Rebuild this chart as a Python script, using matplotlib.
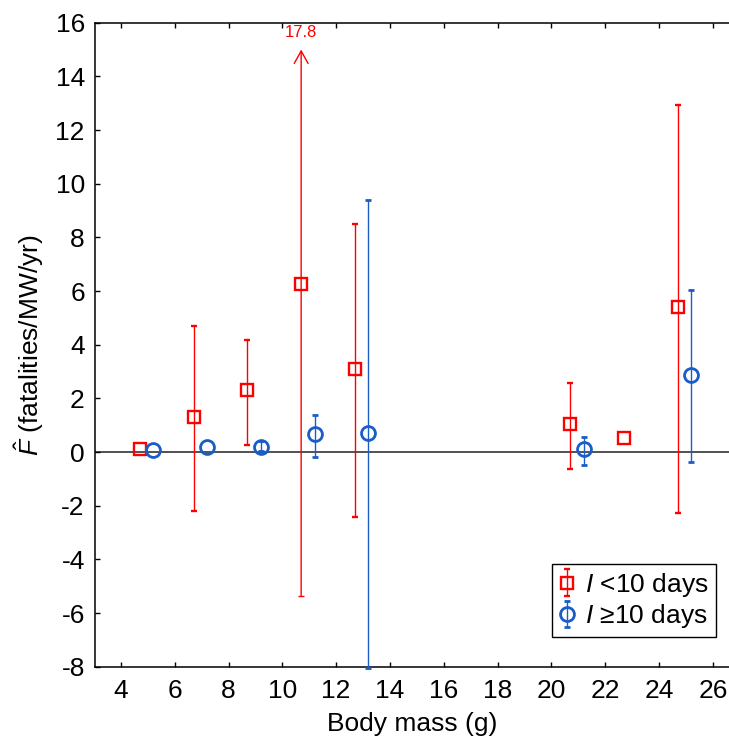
import numpy as np
import matplotlib
matplotlib.use('Agg')
import matplotlib.pyplot as plt

plt.rcParams['font.family'] = ['Liberation Sans', 'DejaVu Sans']
plt.rcParams['mathtext.fontset'] = 'custom'
plt.rcParams['mathtext.rm'] = 'Liberation Sans'
plt.rcParams['mathtext.it'] = 'Liberation Sans:italic'
plt.rcParams['axes.unicode_minus'] = False

# ---- data ----
red_x = [4.7, 6.7, 8.7, 10.7, 12.7, 20.7, 22.7, 24.7]
red_y = [0.11, 1.30, 2.32, 6.27, 3.10, 1.04, 0.52, 5.39]
red_hi = [None, 4.68, 4.18, 17.8, 8.50, 2.59, None, 12.93]
red_lo = [None, -2.18, 0.27, -5.36, -2.42, -0.63, None, -2.27]

blue_x = [5.2, 7.2, 9.2, 11.2, 13.2, 21.2, 25.2]
blue_y = [0.06, 0.20, 0.20, 0.67, 0.72, 0.11, 2.88]
blue_hi = [None, None, 0.42, 1.39, 9.40, 0.57, 6.02]
blue_lo = [None, None, 0.02, -0.19, -8.04, -0.49, -0.39]

y_clip = 15.0          # upper display limit; longer intervals get an arrow
x_ticks = list(range(4, 27, 2))
y_ticks = list(range(-8, 17, 2))

RED = '#ff0000'
BLUE = '#1a5cc8'

fig = plt.figure(figsize=(7.29, 7.47), dpi=100)
W, H = 729, 747
left, right, top, bottom = 94.5, 729, 22.7, 666.7
ax = fig.add_axes([left / W, 1 - bottom / H, (right - left) / W, (bottom - top) / H])

ax.axhline(0, color='#333333', lw=1.2, zorder=1)


def draw_series(xs, ys, his, los, color, marker, ms, mew, label):
    ex, ey, elo, ehi = [], [], [], []
    for x, y, hi, lo in zip(xs, ys, his, los):
        if hi is None:
            continue
        if hi > y_clip:
            ax.annotate('', xy=(x, y_clip), xytext=(x, lo),
                        arrowprops=dict(arrowstyle='->,head_length=0.45,head_width=0.25',
                                        mutation_scale=20, color=color, lw=1.0,
                                        shrinkA=0, shrinkB=0), zorder=2)
            ax.plot([x], [lo], marker='_', ms=4.6, mew=1.0, color=color, zorder=2)
            ax.text(x, y_clip + 0.65, f'{hi:g}', color=color, fontsize=12,
                    ha='center', va='center')
            continue
        ex.append(x); ey.append(y); elo.append(y - lo); ehi.append(hi - y)
    cont = ax.errorbar(ex, ey, yerr=[elo, ehi], fmt=marker, color=color, ms=ms,
                       mfc='none', mec=color, mew=mew, elinewidth=1.0,
                       capsize=2.3, capthick=0.9, label=label, zorder=3, clip_on=False)
    nx = [x for x, hi in zip(xs, his) if hi is None or hi > y_clip]
    ny = [y for y, hi in zip(ys, his) if hi is None or hi > y_clip]
    ax.plot(nx, ny, linestyle='none', marker=marker, ms=ms, mfc='none',
            mec=color, mew=mew, zorder=3)
    return cont


draw_series(red_x, red_y, red_hi, red_lo, RED, 's', 9.3, 1.7, r'$I$ <10 days')
draw_series(blue_x, blue_y, blue_hi, blue_lo, BLUE, 'o', 10.0, 2.0, r'$I$ ≥10 days')

ax.set_xlim(3.02, 26.6)
ax.set_ylim(-8, 16)
ax.set_xticks(x_ticks)
ax.set_yticks(y_ticks)
ax.tick_params(direction='in', length=3.5, width=1.0, top=True, right=False,
               labelsize=19, colors='black')
ax.tick_params(axis='x', pad=9)
ax.tick_params(axis='y', pad=7)
for s in ['left', 'bottom', 'top']:
    ax.spines[s].set_linewidth(1.1)
ax.spines['right'].set_visible(False)

ax.set_xlabel('Body mass (g)', fontsize=19, labelpad=6)
ax.set_ylabel(r'$\hat{F}$ (fatalities/MW/yr)', fontsize=19, labelpad=7)

leg = ax.legend(loc='lower right', bbox_to_anchor=(0.9795, 0.046), borderaxespad=0,
                fancybox=False, edgecolor='black', framealpha=1, fontsize=19,
                handlelength=0.6, handletextpad=0.4, borderpad=0.27, labelspacing=0.12)
leg.get_frame().set_linewidth(1.0)

fig.savefig('out.png', dpi=100)
